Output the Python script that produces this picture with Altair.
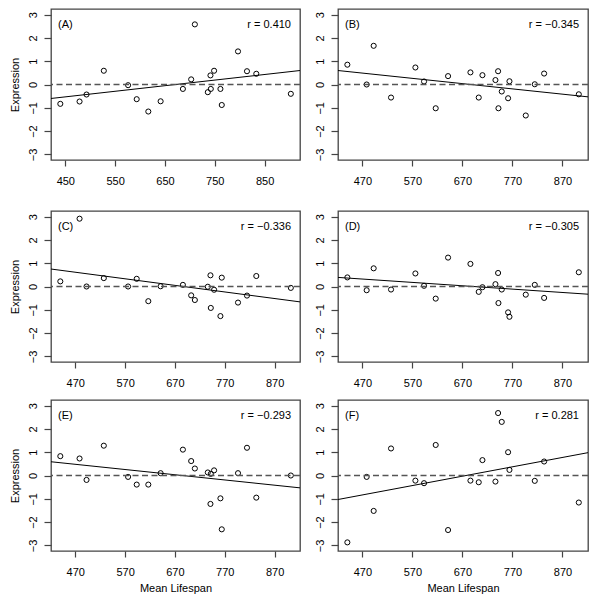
import altair as alt
import pandas as pd

# Mean lifespan of the 21 strains (shared x values)
lifespan = [440.0, 478.6, 492.6, 527.3, 576.0, 593.3, 616.6, 641.3, 686.0, 702.6,
            710.0, 736.0, 741.3, 742.0, 748.6, 761.3, 764.0, 796.6, 814.6, 833.3, 902.6]

expr_A = [-0.83, -0.73, -0.43, 0.59, -0.03, -0.63, -1.16, -0.72, -0.19, 0.22,
          2.58, -0.33, 0.39, -0.19, 0.59, -0.19, -0.88, 1.42, 0.57, 0.46, -0.40]
expr_B = [0.85, 0.00, 1.66, -0.56, 0.73, 0.13, -1.02, 0.36, 0.52, -0.56,
          0.40, 0.19, 0.57, -1.02, -0.30, -0.59, 0.14, -1.33, 0.01, 0.47, -0.42]
expr_C = [0.22, 2.91, 0.00, 0.36, 0.00, 0.33, -0.63, 0.01, 0.07, -0.38,
          -0.58, -0.01, 0.48, -0.92, -0.14, -1.27, 0.38, -0.69, -0.39, 0.45, -0.06]
expr_D = [0.39, -0.16, 0.78, -0.13, 0.56, 0.03, -0.52, 1.24, 0.97, -0.23,
          -0.03, 0.10, 0.58, -0.71, -0.13, -1.11, -1.30, -0.35, 0.07, -0.49, 0.61]
expr_E = [0.83, 0.73, -0.19, 1.28, -0.06, -0.39, -0.39, 0.10, 1.11, 0.62,
          0.30, 0.13, -1.22, 0.07, 0.22, -0.98, -2.31, 0.10, 1.19, -0.95, 0.00]
expr_F = [-2.87, -0.06, -1.52, 1.16, -0.22, -0.33, 1.31, -2.34, -0.22, -0.29,
          0.66, -0.26, 2.68, None, 2.30, 1.00, 0.24, None, -0.23, 0.60, -1.16]

# fitted line read at the left and right ends of the x range
fit_left = [-0.60, 0.60, 0.75, 0.39, 0.59, -1.03]
fit_right = [0.60, -0.53, -0.66, -0.33, -0.53, 0.98]

panel_tags = ["(A)", "(B)", "(C)", "(D)", "(E)", "(F)"]
r_labels = ["r = 0.410", "r = \u22120.345", "r = \u22120.336",
            "r = \u22120.305", "r = \u22120.293", "r = 0.281"]

x_ticks_A = [450, 550, 650, 750, 850]
x_ticks_other = [470, 570, 670, 770, 870]
y_ticks = [-3, -2, -1, 0, 1, 2, 3]
x_domain = [421.3, 921.0]
y_domain = [-3.24, 3.24]

all_expr = [expr_A, expr_B, expr_C, expr_D, expr_E, expr_F]

FONT = "Liberation Sans"
FRAME = "#444444"
W_L, W_R, H = 249, 250, 151


def panel(i, left, bottom):
    w = W_L if left else W_R
    xs = alt.Scale(domain=x_domain, nice=False, zero=False)
    ys = alt.Scale(domain=y_domain, nice=False, zero=False)
    xaxis = alt.Axis(values=x_ticks_A if i == 0 else x_ticks_other, format="d",
                     tickSize=6, tickColor=FRAME, tickWidth=1.2,
                     labelPadding=9, labelFontSize=11, labelFont=FONT, labelColor="black",
                     labelFlush=False, labelOverlap=False,
                     domain=False, grid=False,
                     title="Mean Lifespan" if bottom else None,
                     titleFont=FONT, titleFontSize=11, titleFontWeight="normal",
                     titleColor="black", titlePadding=5)
    yaxis = alt.Axis(values=y_ticks, format="d",
                     tickSize=7, tickColor=FRAME, tickWidth=1.2,
                     labelPadding=6, labelFontSize=11, labelFont=FONT, labelColor="black",
                     labelAngle=270, labelAlign="center", labelBaseline="bottom",
                     labelFlush=False, labelOverlap=False,
                     domain=False, grid=False, minExtent=0,
                     title="Expression" if left else None,
                     titleFont=FONT, titleFontSize=11, titleFontWeight="normal",
                     titleColor="black", titlePadding=7)

    df = pd.DataFrame({"lifespan": lifespan, "expr": all_expr[i]}).dropna()
    pts = alt.Chart(df).mark_point(shape="circle", filled=False, color="black",
                                   size=26, strokeWidth=1, opacity=1).encode(
        x=alt.X("lifespan:Q", scale=xs, axis=xaxis),
        y=alt.Y("expr:Q", scale=ys, axis=yaxis),
    )
    fit = alt.Chart(pd.DataFrame({"lifespan": x_domain, "expr": [fit_left[i], fit_right[i]]})).mark_line(
        color="black", strokeWidth=1, clip=True).encode(
        x=alt.X("lifespan:Q", scale=xs, axis=xaxis),
        y=alt.Y("expr:Q", scale=ys, axis=yaxis))
    zero = alt.Chart(pd.DataFrame({"expr": [0.0]})).mark_rule(
        color="#555555", strokeDash=[6, 3.5], strokeWidth=1.4).encode(
        y=alt.Y("expr:Q", scale=ys, axis=yaxis))
    tag = alt.Chart(pd.DataFrame({"t": [panel_tags[i]]})).mark_text(
        align="left", baseline="middle", font=FONT, fontSize=11, color="black").encode(
        text="t:N", x=alt.value(7), y=alt.value(16))
    rl = alt.Chart(pd.DataFrame({"t": [r_labels[i]]})).mark_text(
        align="right", baseline="middle", font=FONT, fontSize=11, color="black").encode(
        text="t:N", x=alt.value(w - 9), y=alt.value(16))
    return alt.layer(pts, fit, zero, tag, rl).properties(width=w, height=H)


rows = []
for r in range(3):
    rows.append(alt.hconcat(panel(2 * r, True, r == 2), panel(2 * r + 1, False, r == 2), spacing=11))

chart = alt.vconcat(alt.vconcat(rows[0], rows[1], spacing=23), rows[2], spacing=10).properties(
    padding=0, background="white"
).configure_view(stroke=FRAME, strokeWidth=1.3)

chart.save("out.html", embed_options={"renderer": "svg", "actions": False})
